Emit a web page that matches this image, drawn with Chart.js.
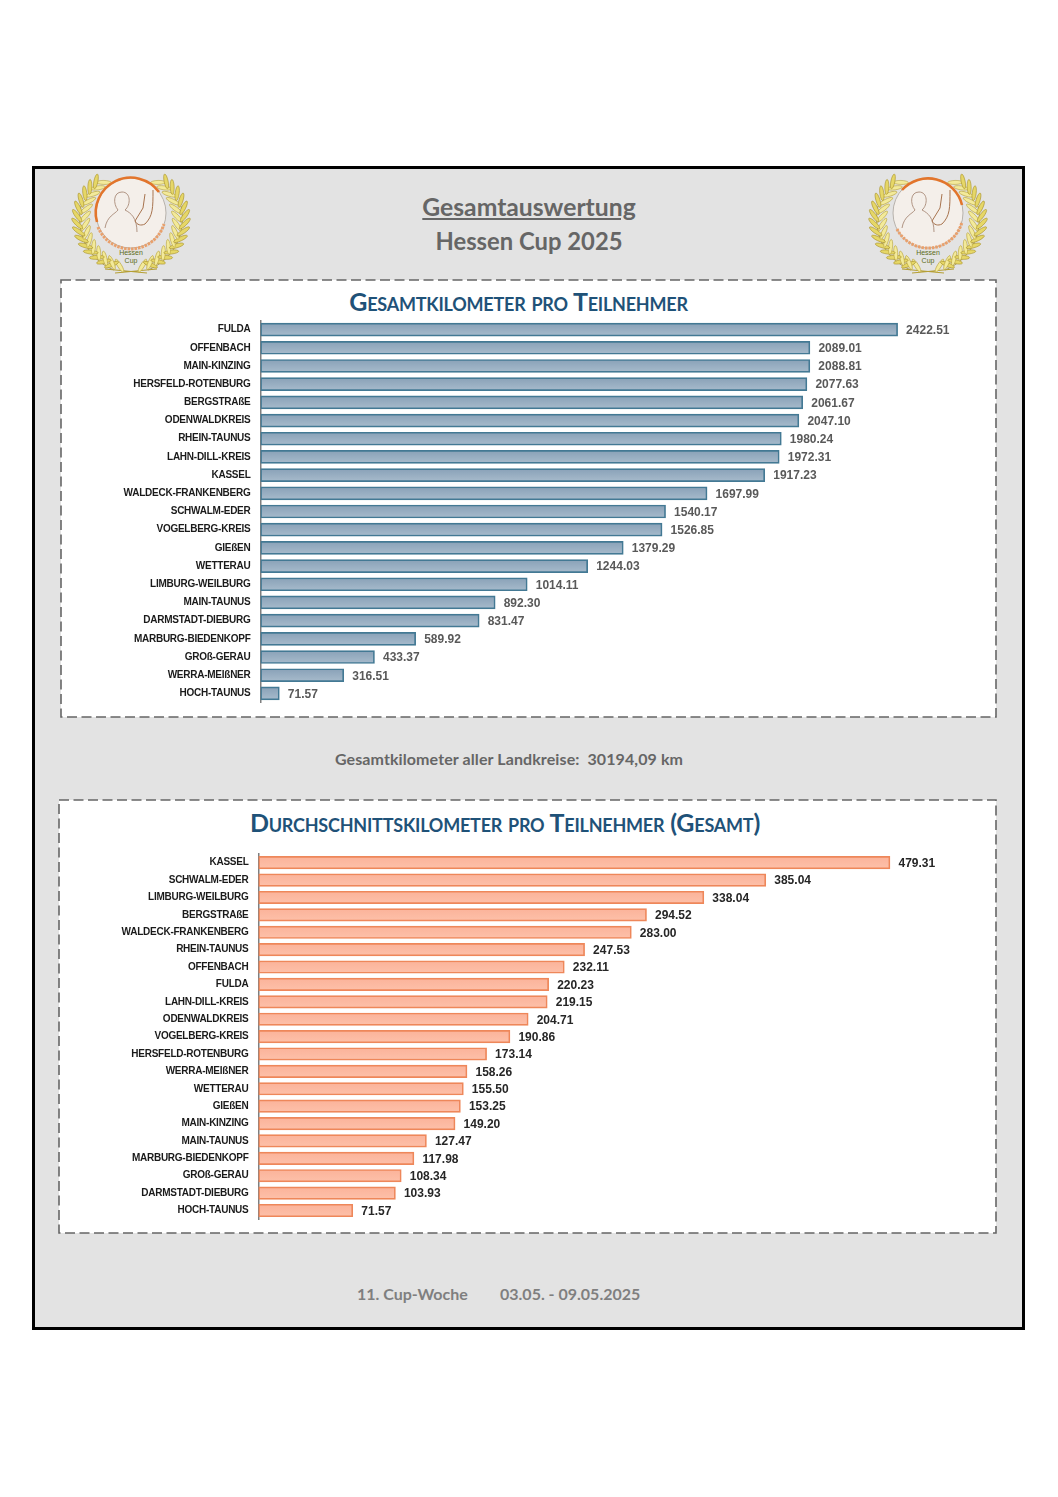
<!DOCTYPE html>
<html lang="de">
<head>
<meta charset="utf-8">
<title>Hessen Cup 2025</title>
<script src="https://cdn.jsdelivr.net/npm/chart.js@4"></script>
<style>
  html, body { margin: 0; background: #fff; }
  #page { position: relative; width: 1058px; height: 1497px; overflow: hidden; }
  #frame { position: absolute; left: 32px; top: 166px; width: 987px; height: 1158px; background: #e3e3e3; border: 3px solid #000; }
  .box { position: absolute; display: block; }
  .line { position: absolute; left: 0; white-space: pre; text-align: center; font-family: Lato, sans-serif; font-weight: 700; }
  .head { width: 1058px; color: #666; font-size: 24.7px; line-height: 30px; }
  .note { width: 1058px; color: #666; font-size: 16px; line-height: 20px; letter-spacing: 0.1px; }
  .chart-title { color: #1f5278; font-size: 25px; line-height: 30px; font-variant: small-caps; letter-spacing: -0.22px; }
  canvas { position: absolute; display: block; }
  .logo { position: absolute; width: 124px; height: 104px; }
</style>
</head>
<body>
<div id="page">
  <div id="frame"></div>

  <svg class="box" style="left:0;top:0" width="1058" height="1497">
    <rect x="61" y="280" width="935" height="437" fill="#fff" stroke="#666" stroke-width="1.6" stroke-dasharray="10 4.5"/>
    <rect x="59" y="800" width="937" height="433" fill="#fff" stroke="#666" stroke-width="1.6" stroke-dasharray="10 4.5"/>
  </svg>

  <svg class="logo" id="logo-left" style="left:69px;top:172px" viewBox="0 0 124 104"></svg>
  <svg class="logo" id="logo-right" style="left:866px;top:172px" viewBox="0 0 124 104"></svg>

  <div class="line head" style="top:192px;text-decoration:underline;">Gesamtauswertung</div>
  <div class="line head" style="top:226px;font-size:23.8px;">Hessen Cup 2025</div>

  <div class="line chart-title" style="top:286px;width:1037px;">Gesamtkilometer pro Teilnehmer</div>
  <canvas id="chart-total" width="931" height="400" style="left:63px;top:312px"></canvas>

  <div class="line note" style="top:749px;width:1018px;">Gesamtkilometer aller Landkreise:  30194,09 km</div>

  <div class="line chart-title" style="top:807px;width:1010px;">Durchschnittskilometer pro Teilnehmer (Gesamt)</div>
  <canvas id="chart-average" width="933" height="384" style="left:61px;top:845px"></canvas>

  <div class="line note" style="top:1284px;left:357px;width:auto;color:#7f7f7f;letter-spacing:0;">11. Cup-Woche</div>
  <div class="line note" style="top:1284px;left:500px;width:auto;color:#7f7f7f;letter-spacing:0;">03.05. - 09.05.2025</div>
</div>

<script>
const totalLabels = ["FULDA", "OFFENBACH", "MAIN-KINZING", "HERSFELD-ROTENBURG", "BERGSTRAßE", "ODENWALDKREIS", "RHEIN-TAUNUS", "LAHN-DILL-KREIS", "KASSEL", "WALDECK-FRANKENBERG", "SCHWALM-EDER", "VOGELBERG-KREIS", "GIEßEN", "WETTERAU", "LIMBURG-WEILBURG", "MAIN-TAUNUS", "DARMSTADT-DIEBURG", "MARBURG-BIEDENKOPF", "GROß-GERAU", "WERRA-MEIßNER", "HOCH-TAUNUS"];
const totalValues = [2422.51, 2089.01, 2088.81, 2077.63, 2061.67, 2047.10, 1980.24, 1972.31, 1917.23, 1697.99, 1540.17, 1526.85, 1379.29, 1244.03, 1014.11, 892.30, 831.47, 589.92, 433.37, 316.51, 71.57];

const averageLabels = ["KASSEL", "SCHWALM-EDER", "LIMBURG-WEILBURG", "BERGSTRAßE", "WALDECK-FRANKENBERG", "RHEIN-TAUNUS", "OFFENBACH", "FULDA", "LAHN-DILL-KREIS", "ODENWALDKREIS", "VOGELBERG-KREIS", "HERSFELD-ROTENBURG", "WERRA-MEIßNER", "WETTERAU", "GIEßEN", "MAIN-KINZING", "MAIN-TAUNUS", "MARBURG-BIEDENKOPF", "GROß-GERAU", "DARMSTADT-DIEBURG", "HOCH-TAUNUS"];
const averageValues = [479.31, 385.04, 338.04, 294.52, 283.00, 247.53, 232.11, 220.23, 219.15, 204.71, 190.86, 173.14, 158.26, 155.50, 153.25, 149.20, 127.47, 117.98, 108.34, 103.93, 71.57];

// Writes the value just right of each bar, tightens the category labels
const valueLabels = {
  id: "valueLabels",
  beforeDraw(chart) {
    chart.ctx.letterSpacing = "-0.25px";
  },
  afterDatasetsDraw(chart, args, opts) {
    const { ctx } = chart;
    const values = chart.data.datasets[0].data;
    ctx.save();
    ctx.letterSpacing = "0px";
    ctx.font = 'bold 12px "Liberation Sans"';
    ctx.fillStyle = opts.color;
    ctx.textBaseline = "middle";
    chart.getDatasetMeta(0).data.forEach((bar, i) => {
      ctx.fillText(values[i].toFixed(2), bar.x + 8.5, bar.y + 1);
    });
    ctx.restore();
  },
};

function barFill(top, bottom) {
  return (context) => {
    const { chart, dataIndex } = context;
    const scale = chart.scales.y;
    if (!chart.chartArea || !scale) return bottom;
    const y = scale.getPixelForValue(dataIndex);
    const grad = chart.ctx.createLinearGradient(0, y - 6, 0, y + 6);
    grad.addColorStop(0, top);
    grad.addColorStop(1, bottom);
    return grad;
  };
}

function makeBarChart(id, labels, values, cfg) {
  return new Chart(document.getElementById(id), {
    type: "bar",
    data: {
      labels,
      datasets: [{
        data: values,
        backgroundColor: barFill(cfg.fillTop, cfg.fillBottom),
        borderColor: cfg.border,
        borderWidth: 1.7,
        borderSkipped: false,
        barThickness: cfg.barHeight,
      }],
    },
    options: {
      indexAxis: "y",
      animation: false,
      responsive: false,
      layout: { padding: cfg.padding },
      scales: {
        x: { display: false, min: 0, max: cfg.max },
        y: {
          // tick padding would otherwise inset the first and last rows
          afterFit(scale) {
            scale.width = 197.5;
            scale.paddingTop = 0;
            scale.paddingBottom = 0;
          },
          grid: { display: false, drawTicks: false },
          border: { display: true, color: "#7f7f7f", width: 1.5 },
          ticks: { autoSkip: false, padding: 10, color: "#1a1a1a", font: { family: "Liberation Sans", weight: "bold", size: 10 } },
        },
      },
      plugins: {
        legend: { display: false },
        tooltip: { enabled: false },
        valueLabels: { color: cfg.valueColor },
      },
    },
    plugins: [valueLabels],
  });
}

makeBarChart("chart-total", totalLabels, totalValues, {
  max: 2700,
  barHeight: 13,
  padding: { top: 8.5, bottom: 9.5, left: 0, right: 23.4 },
  fillTop: "#8aa2b8",
  fillBottom: "#a6bacb",
  border: "#437994",
  valueColor: "#595959",
});

makeBarChart("chart-average", averageLabels, averageValues, {
  max: 550,
  barHeight: 12.5,
  padding: { top: 9, bottom: 9.8, left: 0, right: 10.9 },
  fillTop: "#fbb39a",
  fillBottom: "#fdc0a9",
  border: "#ee875a",
  valueColor: "#262626",
});

// Cup emblem: wreath, ring, silhouette
function drawLogo(svg, mirrored) {
  const NS = "http://www.w3.org/2000/svg";
  const add = (name, attrs, text) => {
    const el = document.createElementNS(NS, name);
    Object.entries(attrs).forEach(([k, v]) => el.setAttribute(k, v));
    if (text) el.textContent = text;
    svg.appendChild(el);
  };
  add("path", { d: "M45 98 C20 88 6 62 12 34 M79 98 C104 88 118 62 112 34", fill: "none", stroke: "#9c8a30", "stroke-width": 0.8 });
  add("path", { d: "M36 97 L78 101 M88 97 L46 101", fill: "none", stroke: "#b59f35", "stroke-width": 1.2 });
  for (const side of [-1, 1]) {
    for (let deg = 18; deg <= 146; deg += 9.5) {
      const a = deg * Math.PI / 180;
      const x = 62 + side * 50 * Math.sin(a);
      const y = 49 + 48 * Math.cos(a);
      const tilt = side * (90 - deg);
      const inX = x - side * 4, outX = x + side * 4;
      add("ellipse", { cx: inX, cy: y - 1, rx: 7.5, ry: 2, fill: "#f3ea9a", stroke: "#b8a33c", "stroke-width": 0.6, transform: `rotate(${tilt + side * 50} ${inX} ${y - 1})` });
      add("ellipse", { cx: outX, cy: y - 2, rx: 7.5, ry: 2, fill: "#e6d767", stroke: "#a8922c", "stroke-width": 0.6, transform: `rotate(${tilt - side * 50} ${outX} ${y - 2})` });
    }
  }
  add("circle", { cx: 62, cy: 41, r: 35, fill: "#f4efea", stroke: "#a9a39c", "stroke-width": 0.8 });
  add("path", {
    d: mirrored ? "M36 18 A35 35 0 0 1 96 33" : "M28 50 A35 35 0 0 1 90 20",
    fill: "none", stroke: "#e2752c", "stroke-width": 2.6,
  });
  add("path", {
    d: mirrored ? "M31 57 A35 35 0 0 0 96 50" : "M29 55 A35 35 0 0 0 95 52",
    fill: "none", stroke: "#e9a06c", "stroke-width": 3, "stroke-dasharray": "2.5 1",
  });
  add("path", { d: "M36 56 C38 44 46 42 49 38 C44 32 44 20 53 20 C62 20 62 33 56 38 C62 41 68 46 68 60", fill: "none", stroke: "#a88a78", "stroke-width": 0.9 });
  add("path", { d: "M84 18 C84 36 84 44 76 52 C72 54 68 53 66 49 L74 36 L76 22", fill: "none", stroke: "#a8744f", "stroke-width": 1 });
  add("text", { x: 62, y: 83, "text-anchor": "middle", "font-size": 7, "font-family": "Liberation Sans", fill: "#5c6b20" }, "Hessen");
  add("text", { x: 62, y: 91, "text-anchor": "middle", "font-size": 7, "font-family": "Liberation Sans", fill: "#5c6b20" }, "Cup");
}
drawLogo(document.getElementById("logo-left"), false);
drawLogo(document.getElementById("logo-right"), true);
</script>
</body>
</html>
